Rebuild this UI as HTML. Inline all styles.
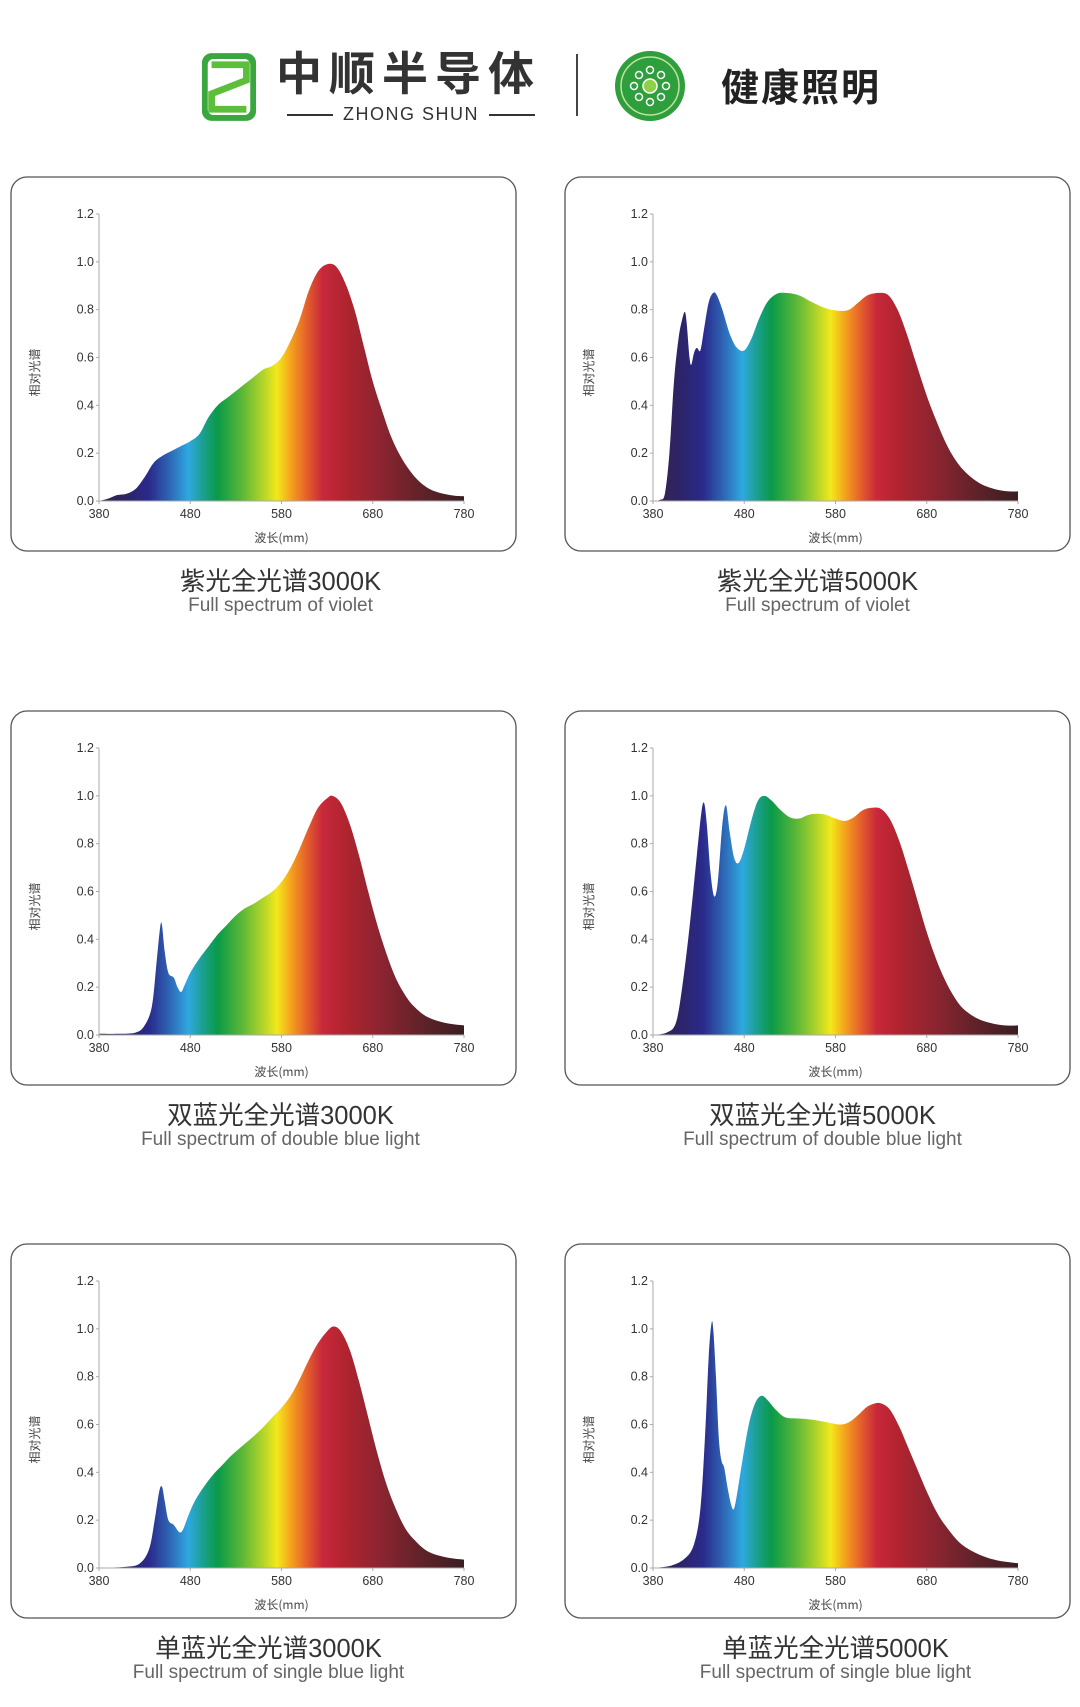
<!DOCTYPE html>
<html><head><meta charset="utf-8">
<style>
html,body{margin:0;padding:0;background:#fff;}
body{width:1080px;height:1707px;position:relative;overflow:hidden;font-family:"Liberation Sans","Noto Sans CJK SC",sans-serif;}
.card{position:absolute;width:507px;height:376px;}
.ttl{position:absolute;width:507px;text-align:center;}
.zh{font-size:25.5px;color:#333;line-height:30px;}
.en{font-size:19px;color:#666;line-height:22px;}
</style></head>
<body>
<div style="position:absolute;left:0;top:0;width:1080px;height:140px;">
<svg style="position:absolute;left:200px;top:51px" width="58" height="72" viewBox="0 0 60 74">
<rect x="2" y="2" width="56" height="70" rx="10" fill="#3aa63f"/>
<rect x="8" y="8" width="44" height="58" rx="6" fill="#fff"/>
<path d="M12 14 H48 V30 L12 44 V60 H48" stroke="#5cbf3a" stroke-width="7" fill="none"/>
</svg>
<div style="position:absolute;left:276px;top:44px;font-size:46px;font-weight:bold;color:#333;letter-spacing:7px;font-family:'Noto Sans CJK SC',sans-serif;line-height:54px;white-space:nowrap;">中顺半导体</div>
<div style="position:absolute;left:280px;top:103px;width:262px;font-size:18px;color:#333;line-height:22px;text-align:center;letter-spacing:1.5px;white-space:nowrap;">
<span style="display:inline-block;width:46px;height:2px;background:#333;vertical-align:middle;margin-right:10px"></span>ZHONG SHUN<span style="display:inline-block;width:46px;height:2px;background:#333;vertical-align:middle;margin-left:10px"></span></div>
<div style="position:absolute;left:576px;top:54px;width:2px;height:62px;background:#444;"></div>
<svg style="position:absolute;left:614px;top:50px" width="72" height="72" viewBox="0 0 72 72">
<circle cx="36" cy="36" r="35" fill="#2f9e3c"/>
<circle cx="36" cy="36" r="29" fill="none" stroke="#bfe3a0" stroke-width="1.5"/>
<circle cx="36" cy="36" r="7" fill="#8fd04a" stroke="#fff" stroke-width="1.5"/>
<g fill="none" stroke="#fff" stroke-width="1.5">
<circle cx="36" cy="20" r="3.5"/><circle cx="36" cy="52" r="3.5"/><circle cx="20" cy="36" r="3.5"/><circle cx="52" cy="36" r="3.5"/>
<circle cx="25" cy="25" r="3.5"/><circle cx="47" cy="25" r="3.5"/><circle cx="25" cy="47" r="3.5"/><circle cx="47" cy="47" r="3.5"/></g>
</svg>
<div style="position:absolute;left:721px;top:62px;font-size:38px;font-weight:bold;color:#222;letter-spacing:2px;font-family:'Noto Sans CJK SC',sans-serif;line-height:46px;white-space:nowrap;">健康照明</div>
</div>
<div id="root"></div>
<script>
const xTicks=[380,480,580,680,780];
const yTicks=[0.0,0.2,0.4,0.6,0.8,1.0,1.2];
const titlesZh=["紫光全光谱3000K","紫光全光谱5000K","双蓝光全光谱3000K","双蓝光全光谱5000K","单蓝光全光谱3000K","单蓝光全光谱5000K"];
const titlesEn=["Full spectrum of violet","Full spectrum of violet","Full spectrum of double blue light","Full spectrum of double blue light","Full spectrum of single blue light","Full spectrum of single blue light"];
const wl1=[380,390,400,410,420,430,440,450,460,470,480,490,500,510,520,530,540,550,560,570,580,590,600,610,620,630,640,650,660,670,680,690,700,710,720,730,740,750,760,770,780];
const v1=[0,0.01,0.025,0.03,0.05,0.1,0.16,0.19,0.21,0.23,0.25,0.28,0.35,0.4,0.43,0.46,0.49,0.52,0.55,0.565,0.6,0.67,0.76,0.88,0.96,0.99,0.98,0.91,0.8,0.65,0.5,0.38,0.27,0.19,0.13,0.085,0.055,0.038,0.028,0.022,0.02];
const wl2=[380,388,393,398,403,408,412,415,417,420,422,425,428,432,436,441,446,450,456,464,472,480,488,496,505,515,525,540,555,570,585,595,605,615,628,638,648,658,668,680,690,700,710,720,730,740,750,760,770,780];
const v2=[0,0.005,0.03,0.2,0.5,0.68,0.76,0.79,0.74,0.6,0.57,0.62,0.64,0.63,0.72,0.83,0.87,0.86,0.8,0.7,0.64,0.63,0.68,0.76,0.83,0.865,0.87,0.86,0.83,0.805,0.795,0.8,0.83,0.86,0.87,0.86,0.8,0.7,0.58,0.44,0.34,0.25,0.18,0.13,0.095,0.07,0.055,0.045,0.04,0.04];
const wl3=[380,400,420,430,438,443,447,449,452,456,462,466,470,474,480,490,500,510,520,530,540,550,560,570,580,590,600,610,620,630,636,645,655,665,675,685,695,705,715,725,740,760,780];
const v3=[0.005,0.005,0.01,0.04,0.12,0.3,0.45,0.46,0.35,0.26,0.24,0.2,0.18,0.21,0.26,0.32,0.37,0.42,0.46,0.5,0.53,0.55,0.575,0.6,0.64,0.7,0.78,0.87,0.95,0.99,1.0,0.97,0.88,0.75,0.6,0.46,0.34,0.24,0.17,0.12,0.075,0.05,0.04];
const wl4=[380,395,405,412,420,428,433,436,439,443,447,451,456,460,464,469,474,480,488,495,502,510,520,530,540,550,560,570,580,590,600,610,620,630,640,650,660,670,680,690,700,710,720,735,750,765,780];
const v4=[0,0.01,0.05,0.2,0.45,0.75,0.93,0.97,0.88,0.68,0.58,0.64,0.88,0.96,0.85,0.74,0.72,0.78,0.9,0.98,1.0,0.98,0.94,0.91,0.905,0.92,0.925,0.92,0.905,0.895,0.91,0.94,0.95,0.945,0.9,0.81,0.69,0.56,0.43,0.32,0.23,0.16,0.11,0.07,0.05,0.04,0.04];
const wl5=[380,410,425,435,441,446,449,452,456,462,468,472,478,485,495,505,515,525,540,555,570,580,590,600,610,620,630,637,645,655,665,675,685,695,705,715,725,740,760,780];
const v5=[0,0.005,0.02,0.08,0.2,0.32,0.34,0.28,0.2,0.18,0.15,0.16,0.22,0.28,0.34,0.39,0.43,0.47,0.52,0.57,0.63,0.67,0.72,0.79,0.87,0.94,0.99,1.01,0.99,0.91,0.78,0.63,0.48,0.35,0.25,0.17,0.12,0.07,0.045,0.035];
const wl6=[380,400,415,425,432,437,441,444,446,449,452,455,458,462,466,469,473,478,485,492,499,506,515,525,540,555,570,585,595,605,615,625,632,640,650,660,670,680,690,700,715,730,745,760,780];
const v6=[0,0.01,0.04,0.1,0.25,0.55,0.88,1.02,1.0,0.8,0.55,0.45,0.42,0.33,0.26,0.25,0.33,0.45,0.6,0.69,0.72,0.7,0.66,0.63,0.625,0.62,0.61,0.6,0.61,0.64,0.675,0.69,0.685,0.66,0.59,0.5,0.41,0.32,0.24,0.18,0.11,0.07,0.045,0.03,0.02];
const series=[[wl1,v1],[wl2,v2],[wl3,v3],[wl4,v4],[wl5,v5],[wl6,v6]];
const NS="http://www.w3.org/2000/svg";
const cardPos=[[10,176],[564,176],[10,710],[564,710],[10,1243],[564,1243]];
const titleOff=[17,0,17,5,5,18];
const PL=89,PR=454,PT=38,PB=325;
function sx(w){return PL+(w-380)/400*(PR-PL);}
function sy(v){return PB-v/1.2*(PB-PT);}
function mk(tag,attrs,parent){const e=document.createElementNS(NS,tag);for(const k in attrs)e.setAttribute(k,attrs[k]);parent.appendChild(e);return e;}
function smoothPath(pts){
  let d="M"+pts[0][0].toFixed(2)+","+pts[0][1].toFixed(2);
  for(let i=0;i<pts.length-1;i++){
    const p0=pts[Math.max(0,i-1)],p1=pts[i],p2=pts[i+1],p3=pts[Math.min(pts.length-1,i+2)];
    const c1x=p1[0]+(p2[0]-p0[0])/6,c1y=p1[1]+(p2[1]-p0[1])/6;
    const c2x=p2[0]-(p3[0]-p1[0])/6,c2y=p2[1]-(p3[1]-p1[1])/6;
    d+=" C"+c1x.toFixed(2)+","+Math.min(PB,c1y).toFixed(2)+" "+c2x.toFixed(2)+","+Math.min(PB,c2y).toFixed(2)+" "+p2[0].toFixed(2)+","+p2[1].toFixed(2);
  }
  return d;
}
const stops=[[380,"#3a2448"],[410,"#2c2468"],[435,"#2a2a8c"],[455,"#2d5fb0"],[478,"#2ea8e0"],[495,"#1a9f8a"],[510,"#0a9a48"],[535,"#55b538"],[560,"#b4d42a"],[575,"#f4e81a"],[590,"#f4a41e"],[605,"#e8692a"],[625,"#c8283a"],[650,"#b0242f"],[690,"#8a2430"],[740,"#5a2228"],[780,"#3a1e22"]];
const root=document.getElementById('root');
series.forEach((s,i)=>{
  const [x0,y0]=cardPos[i];
  const div=document.createElement('div');
  div.className='card';div.style.left=x0+'px';div.style.top=y0+'px';
  
  
  root.appendChild(div);
  const svg=mk('svg',{width:507,height:376},div);
  const border=mk('rect',{x:1,y:1,width:505,height:374,rx:16,fill:'#fff',stroke:'#555','stroke-width':1.3},svg);
  
  
  const defs=mk('defs',{},svg);
  const g=mk('linearGradient',{id:'sp'+i,gradientUnits:'userSpaceOnUse',x1:sx(380),y1:0,x2:sx(780),y2:0},defs);
  stops.forEach(st=>mk('stop',{offset:((st[0]-380)/400).toFixed(4),'stop-color':st[1]},g));
  const [wl,v]=s;
  const pts=wl.map((w,k)=>[sx(w),sy(v[k])]);
  const d=smoothPath(pts)+" L"+sx(wl[wl.length-1]).toFixed(2)+","+PB+" L"+sx(wl[0]).toFixed(2)+","+PB+" Z";
  const area=mk('path',{d:d,fill:'url(#sp'+i+')'},svg);
  
  
  const ya=mk('line',{x1:PL,y1:PT,x2:PL,y2:PB,stroke:'#aaa','stroke-width':1},svg);
  
  
  const xa=mk('line',{x1:PL,y1:PB,x2:PR,y2:PB,stroke:'#aaa','stroke-width':1},svg);
  
  
  yTicks.forEach(t=>{
    mk('line',{x1:PL-3,y1:sy(t),x2:PL,y2:sy(t),stroke:'#aaa'},svg);
    const tx=mk('text',{x:PL-5,y:sy(t)+4,'text-anchor':'end','font-size':12.5,fill:'#333','font-family':'Liberation Sans'},svg);
    tx.textContent=t.toFixed(1);
    
    
  });
  xTicks.forEach(t=>{
    mk('line',{x1:sx(t),y1:PB,x2:sx(t),y2:PB+3,stroke:'#aaa'},svg);
    const tx=mk('text',{x:sx(t),y:PB+17,'text-anchor':'middle','font-size':12.5,fill:'#333','font-family':'Liberation Sans'},svg);
    tx.textContent=t;
    
    
  });
  const yt=mk('text',{x:0,y:0,'text-anchor':'middle','font-size':12,fill:'#444','font-family':'Noto Sans CJK SC',transform:'translate(29,'+((PT+PB)/2+15)+') rotate(-90)'},svg);
  yt.textContent='相对光谱';
  
  
  const xt=mk('text',{x:(PL+PR)/2,y:366,'text-anchor':'middle','font-size':12,fill:'#444','font-family':'Noto Sans CJK SC'},svg);
  xt.textContent='波长(mm)';
  
  
  const zh=document.createElement('div');
  zh.className='ttl zh';zh.style.left=(x0+titleOff[i])+'px';zh.style.top=(y0+376+15)+'px';zh.textContent=titlesZh[i];
  
  
  root.appendChild(zh);
  const en=document.createElement('div');
  en.className='ttl en';en.style.left=(x0+titleOff[i])+'px';en.style.top=(y0+376+43)+'px';en.textContent=titlesEn[i];
  
  
  root.appendChild(en);
});
</script>
</body></html>
